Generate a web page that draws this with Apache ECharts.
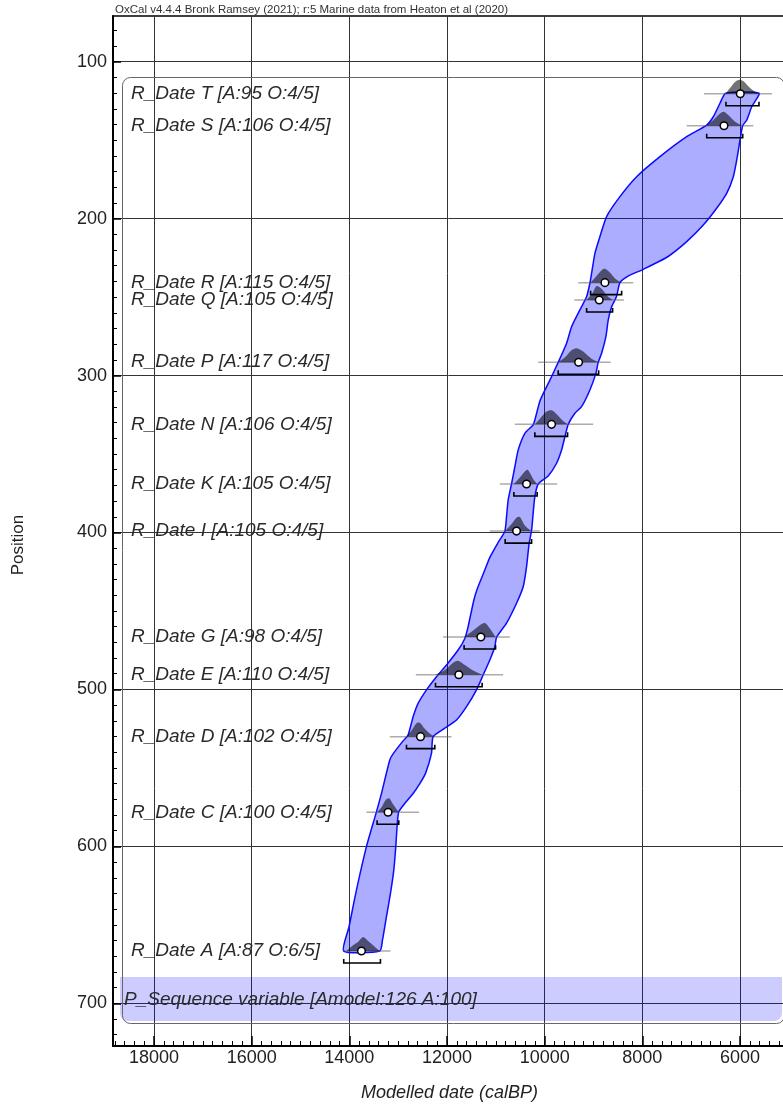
<!DOCTYPE html>
<html><head><meta charset="utf-8">
<script src="https://cdn.jsdelivr.net/npm/echarts@6/dist/echarts.min.js"></script>
<style>html,body{margin:0;padding:0;background:#fff}#c{width:783px;height:1108px}</style>
</head><body><div id="c"></div>
<script>
// ---------- data ----------
const dateLabels = [
  'R_Date T [A:95 O:4/5]', 'R_Date S [A:106 O:4/5]', 'R_Date R [A:115 O:4/5]',
  'R_Date Q [A:105 O:4/5]', 'R_Date P [A:117 O:4/5]', 'R_Date N [A:106 O:4/5]',
  'R_Date K [A:105 O:4/5]', 'R_Date I [A:105 O:4/5]', 'R_Date G [A:98 O:4/5]',
  'R_Date E [A:110 O:4/5]', 'R_Date D [A:102 O:4/5]', 'R_Date C [A:100 O:4/5]',
  'R_Date A [A:87 O:6/5]'
];
const datePositions = [120.4, 140.8, 240.8, 251.9, 291.5, 331.1, 369.1, 399.1, 466.6, 490.6, 530.1, 578.3, 666.7];
const dateMeans     = [5994, 6328, 8766, 8883, 9305, 9859, 10371, 10576, 11307, 11758, 12543, 13207, 13752];
const rangeFrom     = [6287, 6682, 9059, 9141, 9723, 10201, 10631, 10809, 11650, 12236, 12830, 13432, 14115];
const rangeTo       = [5611, 5945, 8424, 8609, 8895, 9531, 10154, 10268, 11006, 11281, 12250, 12988, 13363];
const likeFrom      = [6738, 7092, 9313, 9395, 10133, 10611, 10918, 11123, 12080, 12639, 13172, 13650, 14127];
const likeTo        = [5344, 5727, 8186, 8377, 8650, 9006, 9744, 10098, 10713, 10850, 11908, 12571, 13158];
const posteriorT = [[6294,0],[6205,0.4],[6102,0.84],[6014,1],[5932,0.9],[5830,0.53],[5693,0.13],[5611,0]];
const posteriorS = [[6683,0],[6547,0.4],[6410,0.88],[6328,1],[6240,0.76],[6102,0.29],[5945,0]];
const posteriorR = [[9060,0],[8951,0.42],[8834,0.88],[8766,1],[8678,0.77],[8561,0.3],[8424,0]];
const posteriorQ = [[9142,0],[9019,0.5],[8937,1],[8834,0.8],[8732,0.35],[8609,0]];
const posteriorP = [[9723,0],[9586,0.35],[9449,0.86],[9347,1],[9211,0.76],[9039,0.24],[8896,0]];
const posteriorN = [[10201,0],[10098,0.4],[9961,0.91],[9859,1],[9756,0.73],[9619,0.24],[9531,0]];
const posteriorK = [[10631,0],[10508,0.47],[10385,0.96],[10340,1],[10235,0.36],[10153,0]];
const posteriorI = [[10809,0],[10679,0.5],[10576,0.95],[10508,1],[10406,0.4],[10269,0]];
const posteriorG = [[11650,0],[11499,0.37],[11328,0.84],[11225,1],[11123,0.6],[11006,0]];
const posteriorE = [[12236,0],[12045,0.33],[11875,0.86],[11773,1],[11635,0.69],[11465,0.29],[11281,0]];
const posteriorD = [[12830,0],[12727,0.44],[12625,0.96],[12557,1],[12455,0.56],[12352,0.22],[12250,0]];
const posteriorC = [[13432,0],[13342,0.36],[13254,0.89],[13186,1],[13104,0.57],[12988,0]];
const posteriorA = [[14060,0],[13924,0.42],[13822,0.65],[13719,1],[13617,0.72],[13514,0.42],[13377,0]];
const posteriors = [posteriorT, posteriorS, posteriorR, posteriorQ, posteriorP, posteriorN, posteriorK,
                    posteriorI, posteriorG, posteriorE, posteriorD, posteriorC, posteriorA];
// 95% envelope of the depth model: [position, calBP]
const envelopeOld = [
  [120.1,6293],[126.5,6410],[135.1,6547],[140.4,6682],[147.8,7092],[160.5,7639],[173.3,8117],
  [186.0,8459],[198.7,8732],[211.5,8869],[222.1,8971],[234.8,9039],[241.2,9074],[249.8,9142],
  [258.2,9279],[268.9,9449],[279.4,9551],[291.6,9723],[302.9,9893],[315.6,10090],[328.3,10201],
  [331.5,10236],[336.8,10406],[347.5,10543],[358.1,10611],[369.1,10679],[379.3,10748],[389.9,10781],
  [399.2,10816],[406.7,10960],[415.7,11120],[425.8,11250],[435.8,11380],[443.0,11450],[460.0,11568],
  [467.5,11635],[474.9,11773],[484.4,12010],[491.9,12215],[500.3,12420],[508.9,12592],[517.4,12694],
  [529.0,12797],[532.8,12900],[541.1,13105],[545.0,13172],[566.2,13342],[578.0,13445],[600.2,13650],
  [629.9,13869],[651.2,14006],[666.7,14115]
];
const envelopeYoung = [
  [120.1,5611],[128.7,5760],[137.3,5863],[140.8,5945],[150.0,6000],[160.5,6055],[173.3,6137],
  [183.9,6273],[193.4,6478],[204.1,6752],[214.7,7092],[224.3,7480],[232.3,7981],[236.8,8300],
  [240.8,8459],[249.4,8527],[256.2,8629],[264.7,8699],[275.2,8746],[285.8,8834],[291.6,8904],
  [298.6,8951],[309.2,9074],[319.8,9244],[324.0,9381],[331.1,9518],[339.0,9586],[347.5,9654],
  [355.9,9756],[364.0,9928],[369.1,10133],[377.2,10201],[387.8,10236],[398.7,10268],[406.9,10318],
  [421.7,10371],[434.6,10440],[445.1,10576],[457.8,10781],[466.8,10986],[472.8,11020],[481.2,11123],
  [490.8,11260],[500.3,11396],[511.0,11600],[519.5,11805],[525.4,12080],[530.1,12285],[540.8,12318],
  [553.5,12440],[560.0,12557],[566.3,12694],[572.7,12865],[578.0,12988],[587.5,13023],[600.2,13049],
  [615.1,13090],[630.0,13158],[644.8,13240],[659.8,13322],[666.7,13377]
];
const xTickLabels = [6000, 8000, 10000, 12000, 14000, 16000, 18000];
const yTickLabels = [100, 200, 300, 400, 500, 600, 700];
const xMinorTicks = []; for (let v = 5200; v <= 18800; v += 200) xMinorTicks.push(v);
const yMinorTicks = []; for (let v = 80; v <= 720; v += 10) yMinorTicks.push(v);
const sequenceLabel = 'P_Sequence variable [Amodel:126 A:100]';
const headerText = 'OxCal v4.4.4 Bronk Ramsey (2021); r:5 Marine data from Heaton et al (2020)';

// ---------- chart ----------
const FONT = '"Liberation Sans", Arial, Helvetica, sans-serif';
const X_MIN = 5058, X_MAX = 18840, Y_MIN = 70.9, Y_MAX = 727.2;
const PEAK = 14, LABEL_X = 131;
const chart = echarts.init(document.getElementById('c'), null, {renderer: 'canvas'});

const option = {
  animation: false,
  backgroundColor: '#fff',
  grid: {left: 113, top: 16, right: -3, bottom: 62, show: true, borderColor: '#000', borderWidth: 1.5,
         containLabel: false, outerBoundsMode: 'none'},
  xAxis: [
    {type: 'value', min: X_MIN, max: X_MAX, inverse: true, position: 'bottom',
     axisLine: {show: true, onZero: false, lineStyle: {color: '#000', width: 2}},
     axisTick: {show: true, inside: true, length: 10, customValues: xTickLabels, lineStyle: {color: '#000', width: 1.5}},
     axisLabel: {show: true, customValues: xTickLabels, fontSize: 18, color: '#222', margin: 3, fontFamily: FONT,
                 formatter: v => String(v)},
     splitLine: {show: true, lineStyle: {color: '#333', width: 1}},
     name: 'Modelled date (calBP)', nameLocation: 'middle', nameGap: 38,
     nameTextStyle: {fontStyle: 'italic', fontSize: 18, color: '#222', fontFamily: FONT}},
    {type: 'value', min: X_MIN, max: X_MAX, inverse: true, position: 'bottom',
     axisLine: {show: false, onZero: false},
     axisTick: {show: true, inside: true, length: 5, customValues: xMinorTicks, lineStyle: {color: '#000', width: 1}},
     axisLabel: {show: false}, splitLine: {show: false}}
  ],
  yAxis: [
    {type: 'value', min: Y_MIN, max: Y_MAX, inverse: true, position: 'left',
     axisLine: {show: true, onZero: false, lineStyle: {color: '#000', width: 2}},
     axisTick: {show: true, inside: true, length: 8, customValues: yTickLabels, lineStyle: {color: '#000', width: 1.5}},
     axisLabel: {show: true, customValues: yTickLabels, fontSize: 18, color: '#222', margin: 6, fontFamily: FONT,
                 formatter: v => String(v)},
     splitLine: {show: true, lineStyle: {color: '#333', width: 1}},
     name: 'Position', nameLocation: 'middle', nameGap: 86, nameRotate: 90,
     nameTextStyle: {fontSize: 17, color: '#222', fontFamily: FONT, padding: [0, 28, 0, 0]}},
    {type: 'value', min: Y_MIN, max: Y_MAX, inverse: true, position: 'left',
     axisLine: {show: false, onZero: false},
     axisTick: {show: true, inside: true, length: 4, customValues: yMinorTicks, lineStyle: {color: '#000', width: 1}},
     axisLabel: {show: false}, splitLine: {show: false}}
  ],
  graphic: [
    {type: 'rect', left: 120, top: 977, shape: {width: 662, height: 44, r: [0, 0, 8, 8]},
     style: {fill: 'rgba(0,0,255,0.2)'}, z: 1},
    {type: 'rect', left: 120, top: 75, shape: {width: 662, height: 946, r: 8},
     style: {fill: null, stroke: '#666', lineWidth: 1}, z: 1},
    {type: 'text', left: 124, top: 990, style: {text: sequenceLabel, fontSize: 19, fontStyle: 'italic', fill: '#2a2a2a', fontFamily: FONT}, z: 5},
    {type: 'text', left: 115, top: 4, style: {text: headerText, fontSize: 11.5, fill: '#333', fontFamily: FONT}, z: 5}
  ],
  series: [
    {type: 'custom', xAxisIndex: 0, yAxisIndex: 0, z: 2, silent: true,
     data: [[0, 0]],
     renderItem: function (params, api) {
       const left = envelopeOld.map(p => api.coord([p[1], p[0]]));
       const right = envelopeYoung.slice().reverse().map(p => api.coord([p[1], p[0]]));
       return {type: 'polygon', shape: {points: left.concat(right), smooth: 0.2},
               style: {fill: 'rgba(0,0,255,0.32)', stroke: '#0a0aff', lineWidth: 1.5}};
     }},
    {type: 'custom', xAxisIndex: 0, yAxisIndex: 0, z: 3, silent: true,
     data: datePositions.map((p, i) => [dateMeans[i], p, i]),
     renderItem: function (params, api) {
       const i = api.value(2), pos = datePositions[i];
       const c = api.coord([api.value(0), pos]);
       const y = c[1];
       const l1 = api.coord([likeFrom[i], pos]), l2 = api.coord([likeTo[i], pos]);
       const b1 = api.coord([rangeFrom[i], pos]), b2 = api.coord([rangeTo[i], pos]);
       const pts = posteriors[i].map(d => [api.coord([d[0], pos])[0], y - d[1] * PEAK]);
       const by = y + 12;
       return {type: 'group', children: [
         {type: 'line', shape: {x1: l1[0], y1: y, x2: l2[0], y2: y},
          style: {stroke: 'rgba(90,90,90,0.5)', lineWidth: 1.5}},
         {type: 'polyline', shape: {points: pts, smooth: 0.3}, style: {fill: 'rgba(0,0,0,0.55)', stroke: null}},
         {type: 'polyline', shape: {points: [[b1[0], by - 4], [b1[0], by], [b2[0], by], [b2[0], by - 4]]},
          style: {stroke: '#000', lineWidth: 1.6, fill: null}},
         {type: 'circle', shape: {cx: c[0], cy: y, r: 3.8}, style: {fill: '#fff', stroke: '#000', lineWidth: 1.5}},
         {type: 'text', x: LABEL_X, y: y,
          style: {text: dateLabels[i], fontSize: 19, fontStyle: 'italic', fontFamily: FONT, fill: '#2a2a2a',
                  align: 'left', verticalAlign: 'middle'}}
       ]};
     }}
  ]
};
chart.setOption(option);
</script></body></html>
